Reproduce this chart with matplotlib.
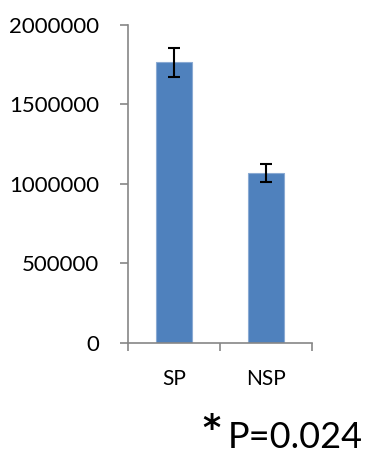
import matplotlib
matplotlib.use("Agg")
import matplotlib.pyplot as plt
from matplotlib.ticker import FixedLocator

plt.rcParams['font.family'] = ['Lato', 'DejaVu Sans']

groups = ["SP", "NSP"]
means = [1765000, 1068000]
errors = [90000, 55000]
y_ticks = [0, 500000, 1000000, 1500000, 2000000]
p_text = "P=0.024"

fig = plt.figure(figsize=(3.69, 4.54), dpi=100)
ax = fig.add_axes([0.347, 0.2445, 0.4985, 0.7005])

x = list(range(len(groups)))
ax.bar(x, means, width=0.4, color="#4F81BD", edgecolor="#8AAAD3", linewidth=0.8, zorder=2)
ax.errorbar(x, means, yerr=errors, fmt="none", ecolor="black", elinewidth=1.5,
            capsize=4.3, capthick=1.5, zorder=3)

ax.set_xlim(-0.5, 1.5)
ax.set_ylim(0, 2000000)
ax.set_yticks(y_ticks)
ax.set_yticklabels([str(v) for v in y_ticks], fontsize=16)

# Major x ticks mark category boundaries; labels sit on minor ticks at bar centres
ax.xaxis.set_major_locator(FixedLocator([-0.5, 0.5, 1.5]))
ax.set_xticklabels([])
ax.xaxis.set_minor_locator(FixedLocator(x))
ax.set_xticklabels(groups, minor=True, fontsize=15)
ax.tick_params(axis="x", which="minor", length=0, pad=19)
ax.tick_params(axis="x", which="major", length=6, width=1.2, color="#868686", direction="out")
ax.tick_params(axis="y", length=6, width=1.2, color="#868686", direction="out", pad=15)

for s in ["top", "right"]:
    ax.spines[s].set_visible(False)
for s in ["left", "bottom"]:
    ax.spines[s].set_color("#868686")
    ax.spines[s].set_linewidth(1.2)

fig.text(228 / 369, 1 - 437 / 454, p_text, fontsize=26, ha="left", va="center")
fig.text(211 / 369, 1 - 439 / 454, "*", fontsize=25, ha="center", va="baseline",
         family="DejaVu Sans", fontweight="bold")

fig.savefig("out.png", dpi=100)
